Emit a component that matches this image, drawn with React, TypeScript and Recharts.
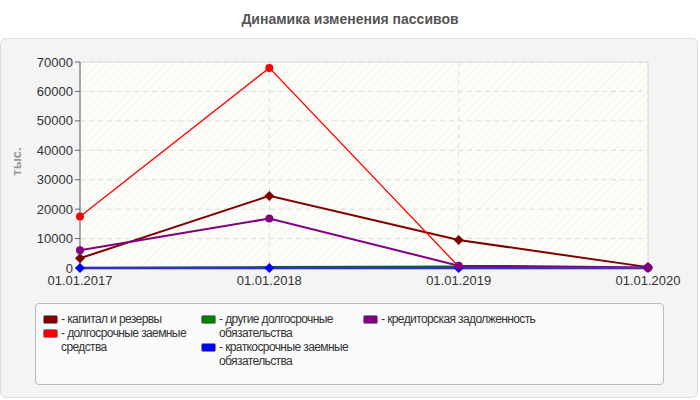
import React from "react"
import { LineChart, Line, XAxis, YAxis, CartesianGrid, ReferenceArea } from "recharts"

const dates = ["01.01.2017", "01.01.2018", "01.01.2019", "01.01.2020"]
const capital = [3300, 24500, 9500, 300]
const longLoans = [17500, 68000, 500, 0]
const otherLong = [0, 300, 500, 0]
const shortLoans = [0, 0, 0, 0]
const payables = [6000, 16800, 800, 200]
const yTicks = [0, 10000, 20000, 30000, 40000, 50000, 60000, 70000]

const series = [
  { key: "capital", name: "капитал и резервы", values: capital, color: "#800000", width: 2, shape: "diamond" },
  { key: "longLoans", name: "долгосрочные заемные средства", values: longLoans, color: "#ff0000", width: 1.3, shape: "circle" },
  { key: "otherLong", name: "другие долгосрочные обязательства", values: otherLong, color: "#008000", width: 2, shape: "none" },
  { key: "shortLoans", name: "краткосрочные заемные обязательства", values: shortLoans, color: "#0000ff", width: 2.5, shape: "diamond" },
  { key: "payables", name: "кредиторская задолженность", values: payables, color: "#800080", width: 2, shape: "circle" },
]

// legend columns as in the original
const legendCols = [
  ["capital", "longLoans"],
  ["otherLong", "shortLoans"],
  ["payables"],
]

const data = dates.map((d, i) => {
  const row: any = { date: d }
  series.forEach((s) => {
    row[s.key] = s.values[i]
  })
  return row
})

const makeDot = (color: string, shape: string) => (props: any) => {
  const { cx, cy, index } = props
  if (shape === "none" || cx == null || cy == null) return <g key={`d-${index}`} />
  if (shape === "diamond") {
    const r = 5
    return (
      <path
        key={`d-${index}`}
        d={`M${cx},${cy - r} L${cx + r},${cy} L${cx},${cy + r} L${cx - r},${cy} Z`}
        fill={color}
      />
    )
  }
  return <circle key={`d-${index}`} cx={cx} cy={cy} r={4} fill={color} />
}

const font = "Arial, 'Liberation Sans', sans-serif"

export default function App() {
  return (
    <div style={{ position: "absolute", left: 0, top: 0, width: 700, height: 400, background: "#fff", fontFamily: font }}>
      <div
        style={{
          position: "absolute",
          top: 11,
          left: 0,
          width: 700,
          textAlign: "center",
          fontSize: 14,
          fontWeight: "bold",
          color: "#555",
        }}
      >
        Динамика изменения пассивов
      </div>
      <div
        style={{
          position: "absolute",
          left: 0,
          top: 38,
          width: 696,
          height: 358,
          background: "#f4f4f4",
          border: "1px solid #dedede",
          borderRadius: 6,
        }}
      />
      <div
        style={{
          position: "absolute",
          left: 1,
          top: 154,
          transform: "rotate(-90deg)",
          transformOrigin: "center",
          fontSize: 13,
          fontWeight: "bold",
          color: "#999",
          width: 30,
          textAlign: "center",
        }}
      >
        тыс.
      </div>
      <div style={{ position: "absolute", left: 0, top: 0 }}>
        <LineChart width={700} height={292} data={data} margin={{ top: 62, right: 52, left: 20, bottom: 0 }}>
          <defs>
            <pattern id="hatch" width="6" height="6" patternUnits="userSpaceOnUse" patternTransform="rotate(45)">
              <rect width="6" height="6" fill="#fdfdf7" />
              <line x1="0" y1="0" x2="0" y2="6" stroke="#ececec" strokeWidth="1" />
            </pattern>
          </defs>
          <CartesianGrid fill="url(#hatch)" stroke="#dcdcdc" strokeDasharray="5 4" />
          <ReferenceArea x1={dates[0]} x2={dates[3]} y1={0} y2={70000} fill="none" stroke="#dddddd" />
          <XAxis
            dataKey="date"
            padding={{ left: 0, right: 0 }}
            height={24}
            tick={{ fontSize: 13, fill: "#333", fontFamily: font }}
            tickLine={false}
            axisLine={{ stroke: "#666" }}
            interval={0}
          />
          <YAxis
            width={60}
            domain={[0, 70000]}
            ticks={yTicks}
            tick={{ fontSize: 13, fill: "#333", fontFamily: font }}
            tickSize={5}
            tickLine={{ stroke: "#666" }}
            axisLine={{ stroke: "#666" }}
          />
          {series.map((s) => (
            <Line
              key={s.key}
              dataKey={s.key}
              name={s.name}
              type="linear"
              stroke={s.color}
              strokeWidth={s.width}
              dot={makeDot(s.color, s.shape)}
              activeDot={false}
              isAnimationActive={false}
            />
          ))}
        </LineChart>
      </div>
      <div
        style={{
          position: "absolute",
          left: 35,
          top: 303,
          width: 627,
          height: 80,
          background: "#fafafa",
          border: "1px solid #bbb",
          borderRadius: 4,
          fontSize: 12,
          letterSpacing: -0.6,
          color: "#333",
        }}
      >
        {legendCols.map((col, ci) => (
          <div
            key={ci}
            style={{ position: "absolute", top: 8, left: [7, 165, 327][ci], width: [150, 160, 300][ci] }}
          >
            {col.map((k) => {
              const s = series.find((x) => x.key === k)!
              return (
                <div key={k} style={{ display: "flex", alignItems: "flex-start", lineHeight: "14px", marginBottom: 0 }}>
                  <span
                    style={{
                      display: "inline-block",
                      width: 13,
                      height: 7,
                      background: s.color,
                      borderRadius: 2,
                      border: "1px solid #888",
                      marginTop: 3,
                      marginRight: 3,
                      flexShrink: 0,
                    }}
                  />
                  <span style={{ whiteSpace: "pre-wrap" }}>- {s.name}</span>
                </div>
              )
            })}
          </div>
        ))}
      </div>
    </div>
  )
}
